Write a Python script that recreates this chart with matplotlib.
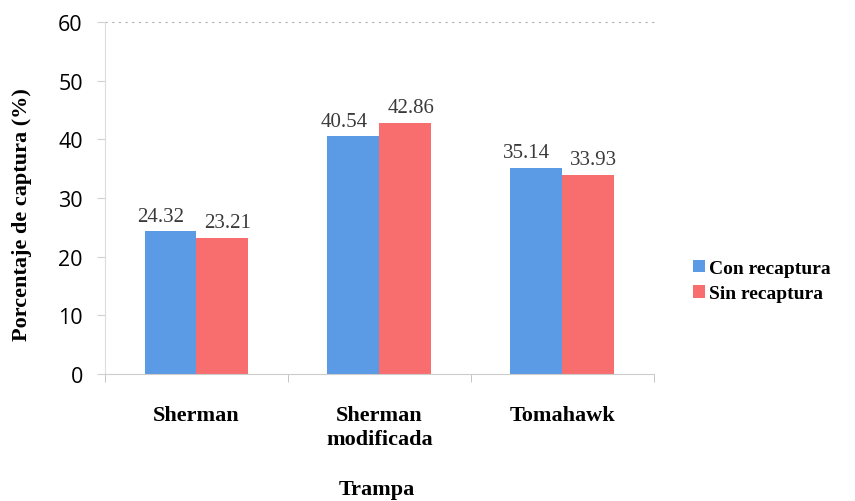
import numpy as np
import matplotlib.pyplot as plt

trampas = ["Sherman", "Sherman\nmodificada", "Tomahawk"]
con_recaptura = [24.32, 40.54, 35.14]
sin_recaptura = [23.21, 42.86, 33.93]
series_names = ["Con recaptura", "Sin recaptura"]
yticks = [0, 10, 20, 30, 40, 50, 60]

blue = "#5b9ae4"
red = "#f86e6e"
serif = "Liberation Serif"

fig = plt.figure(figsize=(8.55, 5.02), dpi=100)
ax = fig.add_axes([0.1228, 0.253, 0.6420, 0.701])

x = np.arange(len(trampas))
w = 0.284
b1 = ax.bar(x - w / 2, con_recaptura, w, color=blue, label=series_names[0])
b2 = ax.bar(x + w / 2, sin_recaptura, w, color=red, label=series_names[1])

# value labels, nudged slightly outward like the original Excel layout
for bars, vals, dx in [(b1, con_recaptura, -7), (b2, sin_recaptura, 4)]:
    for rect, v in zip(bars, vals):
        ax.annotate(f"{v:.2f}", (rect.get_x() + rect.get_width() / 2, v),
                    xytext=(dx, 4), textcoords="offset points",
                    ha="center", va="bottom", family=serif, fontsize=15,
                    color="#3a3a3a")

ax.set_xlim(-0.5, 2.5)
ax.set_ylim(0, 60)
ax.set_yticks(yticks)
ax.set_yticklabels([str(t) for t in yticks], family="Open Sans", fontsize=15.5)
ax.set_xticks(x)
ax.set_xticklabels(trampas, family=serif, fontsize=16, fontweight="bold",
                   linespacing=1.3)
ax.tick_params(axis="x", length=0, pad=22)
ax.tick_params(axis="y", length=6, color="#d0d0d0", pad=10)

# category separators along the bottom axis
ax.set_xticks([-0.5, 0.5, 1.5, 2.5], minor=True)
ax.tick_params(axis="x", which="minor", length=6, color="#bbbbbb")

for s in ["top", "right"]:
    ax.spines[s].set_visible(False)
ax.spines["left"].set_color("#dcdcdc")
ax.spines["bottom"].set_color("#cccccc")
ax.axhline(60, color="#b0b0b0", linestyle=(0, (2, 4)), linewidth=0.8, clip_on=False)

ax.set_ylabel("Porcentaje de captura (%)", family=serif, fontsize=16,
              fontweight="bold", va="center")
ax.yaxis.set_label_coords(-0.151, 0.455)
ax.set_xlabel("Trampa", family=serif, fontsize=16, fontweight="bold", va="center")
ax.xaxis.set_label_coords(0.496, -0.327)

ax.legend(loc="center left", bbox_to_anchor=(1.04, 0.264), frameon=False,
          prop={"family": serif, "size": 14, "weight": "bold"},
          handlelength=0.6, handleheight=0.6, handletextpad=0.2,
          labelspacing=0.45)

fig.savefig("out.png", dpi=100)
